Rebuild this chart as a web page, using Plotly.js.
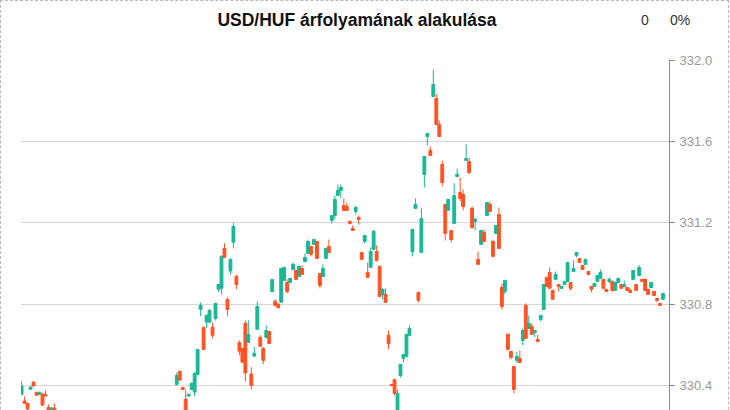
<!DOCTYPE html>
<html>
<head>
<meta charset="utf-8">
<script src="https://cdn.plot.ly/plotly-3.0.1.min.js"></script>
<style>
  html, body { margin: 0; padding: 0; background: #fff; overflow: hidden; }
  #wrap { position: relative; width: 730px; height: 410px; overflow: hidden; }
  #chart { position: absolute; left: 0; top: 0; width: 730px; height: 480px; }
  #frame { position: absolute; left: 0; top: 0; width: 729px; height: 520px; box-sizing: border-box;
           border: 1px dashed #b8b8b8; pointer-events: none; }
</style>
</head>
<body>
<div id="wrap">
  <div id="chart"></div>
  <div id="frame"></div>
</div>
<script>
// Period index of each candle (periods 12-51 lie below the visible area and are not shown)
const periods = [0,1,2,3,4,5,6,7,8,9,10,11,
  52,53,54,55,56,57,58,59,60,61,62,63,64,65,66,67,68,69,70,71,72,73,74,75,76,77,78,79,
  80,81,82,83,84,85,86,87,88,89,90,91,92,93,94,95,96,97,98,99,100,101,102,103,104,105,106,107,
  108,109,110,111,112,113,114,115,116,117,118,119,120,121,122,123,124,125,126,127,128,129,130,131,
  132,133,134,135,136,137,138,139,140,141,142,143,144,145,146,147,148,149,150,151,152,153,154,155,
  156,157,158,159,160,161,162,163,164,165,166,167,168,169,170,171,172,173,174,175,176,177,178,179,
  180,181,182,183,184,185,186,187,188,189,190,191,192,193,194,195,196,197,198,199,200,201,202,203,
  204,205,206,207,208,209,210,211,212,213,214,215];

const openV = [330.357,330.324,330.313,330.382,330.417,330.367,330.357,330.357,330.357,330.293,330.26,330.29,
  330.406,330.47,330.391,330.333,330.349,330.381,330.368,330.455,330.775,330.686,330.712,330.712,330.686,330.73,330.873,330.878,331.074,330.823,330.963,331.105,330.936,330.612,330.583,330.706,330.612,330.457,330.545,330.677,
  330.637,330.583,330.637,330.666,330.862,330.814,330.80,330.81,330.917,330.907,330.907,330.971,330.966,330.936,330.976,331.010,331.050,331.084,331.094,331.108,330.951,330.936,331.025,331.084,331.212,331.236,331.334,331.359,
  331.285,331.28,331.207,331.172,331.256,331.226,331.054,331.108,330.956,330.981,331.069,331.059,330.986,330.848,330.848,330.647,330.406,330.430,330.28,330.450,330.534,330.544,330.647,331.059,
  331.271,330.858,331.054,331.438,331.624,331.555,331.821,331.811,331.683,331.487,331.290,331.261,331.162,331.197,331.428,331.349,331.339,331.506,331.501,331.271,331.207,331.020,331.094,331.153,
  331.236,331.290,331.108,331.148,331.241,330.882,330.863,330.652,330.568,330.494,330.524,330.534,330.622,330.794,330.681,330.691,330.661,330.627,330.725,330.774,330.932,330.956,330.868,330.922,
  330.897,330.878,330.897,330.912,330.907,330.961,331.040,331.025,330.991,330.996,330.961,330.887,330.887,330.912,330.927,330.922,330.873,330.912,330.912,330.868,330.907,330.897,330.887,330.882,
  330.868,330.922,330.897,330.941,330.922,330.922,330.873,330.882,330.863,330.828,330.804,330.824];

const highV = [330.42,330.347,330.315,330.395,330.422,330.369,330.37,330.365,330.377,330.307,330.295,330.313,
  330.464,330.472,330.393,330.381,330.36,330.415,330.465,330.58,330.809,330.69,330.75,330.775,330.709,330.806,330.9,331.04,331.099,330.833,331.025,331.2,330.945,330.622,330.585,330.721,330.721,330.49,330.592,330.814,
  330.647,330.59,330.696,330.67,330.925,330.824,330.805,330.978,330.983,330.922,330.929,331.005,330.968,330.988,330.991,331.050,331.118,331.086,331.12,331.11,330.953,330.996,331.076,331.118,331.238,331.334,331.388,331.388,
  331.32,331.30,331.212,331.187,331.285,331.236,331.056,331.14,331.005,331.079,331.167,331.089,330.991,330.878,330.878,330.671,330.408,330.432,330.381,330.506,330.555,330.654,330.696,331.169,
  331.32,330.863,331.271,331.528,331.641,331.575,331.953,331.835,331.703,331.506,331.292,331.317,331.164,331.393,331.467,331.423,331.364,331.585,331.521,331.28,331.226,331.059,331.165,331.167,
  331.302,331.305,331.118,331.189,331.275,330.902,330.919,330.657,330.57,330.496,330.568,330.573,330.681,330.804,330.745,330.706,330.673,330.652,330.747,330.899,330.934,330.981,330.87,330.961,
  330.899,330.889,330.914,331.007,330.909,331.015,331.056,331.027,330.993,331.025,330.963,330.889,330.904,330.943,330.971,330.924,330.875,330.932,330.915,330.909,330.929,330.899,330.917,330.884,
  330.878,330.968,330.899,330.991,330.924,330.927,330.875,330.909,330.865,330.83,330.806,330.855];

const lowV = [330.355,330.31,330.28,330.38,330.396,330.352,330.355,330.302,330.347,330.26,330.25,330.25,
  330.40,330.425,330.377,330.24,330.345,330.379,330.348,330.45,330.742,330.575,330.684,330.71,330.632,330.72,330.86,330.848,331.028,330.742,330.945,331.074,330.873,330.549,330.51,330.42,330.61,330.381,330.54,330.675,
  330.59,330.505,330.632,330.605,330.86,330.79,330.78,330.808,330.915,330.853,330.905,330.966,330.92,330.934,330.944,331.005,331.048,331.035,331.092,331.023,330.878,330.934,331.023,331.052,331.197,331.217,331.332,331.32,
  331.256,331.258,331.192,331.16,331.241,331.192,331.018,331.099,330.93,330.979,331.067,331.010,330.836,330.824,330.807,330.578,330.399,330.352,330.27,330.440,330.514,330.542,330.645,331.035,
  331.269,330.809,331.052,331.374,331.580,331.529,331.819,331.681,331.622,331.379,331.113,331.259,331.104,331.195,331.423,331.305,331.261,331.504,331.438,331.17,331.162,330.994,331.09,331.104,
  331.234,331.254,331.033,331.146,331.072,330.774,330.848,330.573,330.529,330.362,330.509,330.512,330.598,330.630,330.679,330.65,330.637,330.615,330.715,330.772,330.885,330.876,330.822,330.92,
  330.863,330.876,330.895,330.91,330.868,330.959,331.030,331.003,330.969,330.994,330.944,330.858,330.885,330.91,330.925,330.876,330.861,330.902,330.86,330.866,330.905,330.876,330.885,330.866,
  330.856,330.92,330.866,330.939,330.91,330.866,330.846,330.88,330.841,330.809,330.792,330.822];

const closeV = [330.398,330.313,330.285,330.393,330.398,330.353,330.367,330.304,330.349,330.27,330.29,330.26,
  330.45,330.427,330.381,330.25,330.357,330.411,330.46,330.578,330.794,330.578,330.745,330.77,330.647,330.804,330.897,331.035,331.03,330.774,331.02,331.182,330.897,330.569,330.516,330.462,330.652,330.401,330.558,330.789,
  330.593,330.524,330.671,330.607,330.921,330.794,330.783,330.976,330.981,330.863,330.927,330.996,330.922,330.986,330.946,331.030,331.108,331.045,331.118,331.025,330.892,330.976,331.074,331.054,331.236,331.315,331.359,331.374,
  331.261,331.261,331.197,331.162,331.275,331.217,331.020,331.138,330.932,331.059,331.158,331.015,330.838,330.873,330.809,330.607,330.401,330.362,330.362,330.504,330.553,330.652,330.681,331.167,
  331.290,330.819,331.221,331.526,331.639,331.531,331.880,331.683,331.624,331.398,331.148,331.315,331.118,331.334,331.438,331.320,331.280,331.516,331.447,331.177,331.217,330.996,331.162,331.108,
  331.300,331.256,331.035,331.187,331.074,330.789,330.917,330.578,330.539,330.381,330.544,330.514,330.671,330.632,330.706,330.652,330.671,330.617,330.745,330.897,330.887,330.878,330.824,330.946,
  330.887,330.887,330.912,331.005,330.878,330.976,331.054,331.005,330.971,331.020,330.946,330.873,330.902,330.941,330.956,330.878,330.863,330.922,330.868,330.907,330.927,330.878,330.897,330.868,
  330.858,330.966,330.868,330.981,330.912,330.868,330.848,330.907,330.843,330.819,330.794,330.853];

const yTickVals = [330.4, 330.8, 331.2, 331.6, 332.0];
const yTickText = ['330.4','330.8','331.2','331.6','332.0'];

const trace = {
  type: 'candlestick',
  x: periods,
  open: openV, high: highV, low: lowV, close: closeV,
  increasing: { line: { color: '#19b897', width: 1 }, fillcolor: '#19b897' },
  decreasing: { line: { color: '#ff5324', width: 1 }, fillcolor: '#ff5324' },
  whiskerwidth: 0,
  hoverinfo: 'none'
};

const layout = {
  width: 730, height: 480,
  margin: { l: 21, r: 61, t: 60, b: 13 },
  paper_bgcolor: '#ffffff', plot_bgcolor: '#ffffff',
  showlegend: false,
  boxgap: 0.05, boxgroupgap: 0,
  title: {
    text: 'USD/HUF árfolyamának alakulása',
    font: { family: 'Liberation Sans, Arial, sans-serif', size: 17.5, color: '#111', weight: 'bold' },
    xref: 'container', x: 357/730, xanchor: 'center',
    yref: 'container', y: 1 - 20/480, yanchor: 'middle'
  },
  xaxis: {
    range: [-0.2, 217], showgrid: false, showticklabels: false, ticks: '', zeroline: false,
    showline: false, rangeslider: { visible: false }, fixedrange: true
  },
  yaxis: {
    side: 'right', range: [330.0, 332.0], tickvals: yTickVals, ticktext: yTickText,
    showgrid: true, gridcolor: '#d6d6d6', gridwidth: 1, zeroline: false,
    showline: true, linecolor: '#8c8c8c', linewidth: 1,
    ticks: 'outside', ticklen: 5, tickcolor: '#8c8c8c', ticklabelstandoff: 2,
    tickfont: { family: 'Liberation Sans, Arial, sans-serif', size: 13, color: '#9a9a9a' },
    fixedrange: true
  },
  annotations: [
    { xref: 'paper', yref: 'paper', x: (645 - 21) / 648, y: (467 - 20) / 407, text: '0', showarrow: false,
      xanchor: 'center', yanchor: 'middle', font: { family: 'Liberation Sans, Arial, sans-serif', size: 14, color: '#333' } },
    { xref: 'paper', yref: 'paper', x: (680 - 21) / 648, y: (467 - 20) / 407, text: '0%', showarrow: false,
      xanchor: 'center', yanchor: 'middle', font: { family: 'Liberation Sans, Arial, sans-serif', size: 14, color: '#333' } }
  ]
};

Plotly.newPlot('chart', [trace], layout, { displayModeBar: false, staticPlot: true });
</script>
</body>
</html>
